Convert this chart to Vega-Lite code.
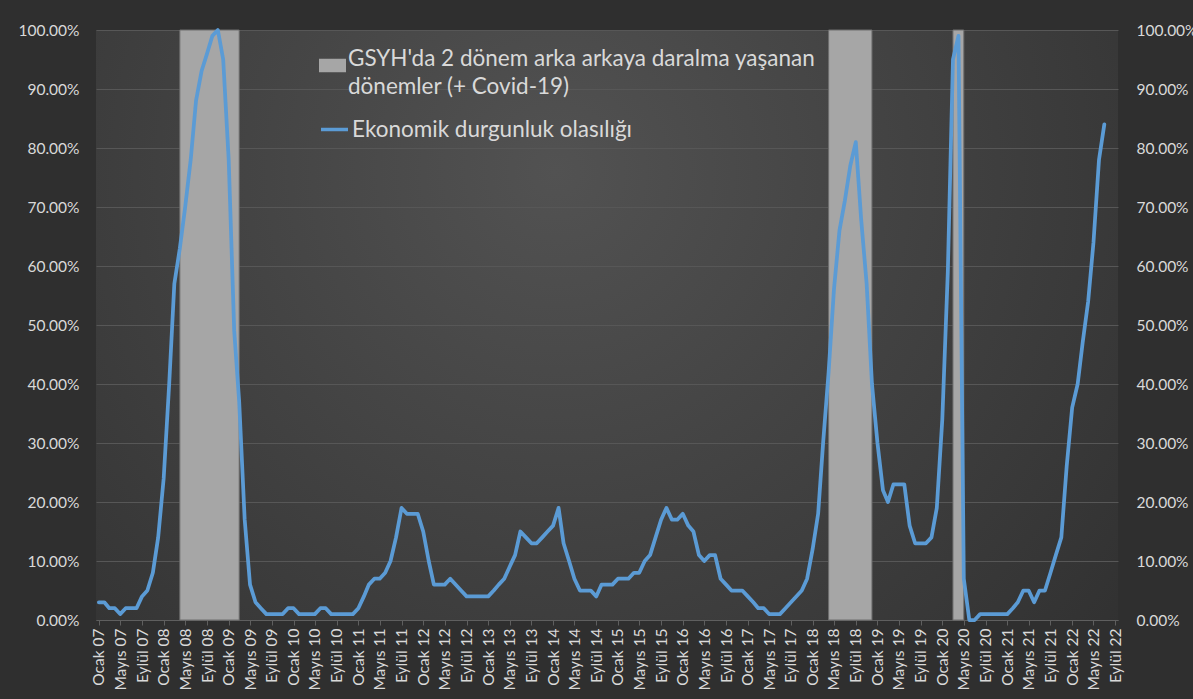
{
  "$schema": "https://vega.github.io/schema/vega-lite/v6.json",
  "width": 1022,
  "height": 590,
  "autosize": {"type": "none"},
  "padding": {"left": 96, "top": 30, "right": 75, "bottom": 79},
  "background": "#2f2f2f",
  "config": {
    "font": "Lato",
    "view": {
      "stroke": null,
      "fill": {"gradient": "radial", "x1": 0.45, "y1": 0.35, "r1": 0, "x2": 0.45, "y2": 0.35, "r2": 0.8,
        "stops": [{"offset": 0, "color": "#525252"}, {"offset": 1, "color": "#2d2d2d"}]}
    },
    "axis": {"labelColor": "#d9d9d9", "labelFont": "Lato", "labelFontSize": 15.5, "title": null, "gridColor": "#575757", "gridWidth": 1},
    "style": {"guide-label": {"lineHeight": 28.5}}
  },
  "datasets": {
    "daralma": [
      {"baslangic": "2008-04-01", "bitis": "2009-03-01"},
      {"baslangic": "2018-04-01", "bitis": "2018-12-01"},
      {"baslangic": "2020-03-01", "bitis": "2020-05-01"}
    ],
    "olasilik": [
      {"ay": "2007-01-01", "deger": 0.03}, {"ay": "2007-02-01", "deger": 0.03}, {"ay": "2007-03-01", "deger": 0.02}, {"ay": "2007-04-01", "deger": 0.02},
      {"ay": "2007-05-01", "deger": 0.01}, {"ay": "2007-06-01", "deger": 0.02}, {"ay": "2007-07-01", "deger": 0.02}, {"ay": "2007-08-01", "deger": 0.02},
      {"ay": "2007-09-01", "deger": 0.04}, {"ay": "2007-10-01", "deger": 0.05}, {"ay": "2007-11-01", "deger": 0.08}, {"ay": "2007-12-01", "deger": 0.14},
      {"ay": "2008-01-01", "deger": 0.24}, {"ay": "2008-02-01", "deger": 0.40}, {"ay": "2008-03-01", "deger": 0.57}, {"ay": "2008-04-01", "deger": 0.63},
      {"ay": "2008-05-01", "deger": 0.70}, {"ay": "2008-06-01", "deger": 0.78}, {"ay": "2008-07-01", "deger": 0.88}, {"ay": "2008-08-01", "deger": 0.93},
      {"ay": "2008-09-01", "deger": 0.96}, {"ay": "2008-10-01", "deger": 0.99}, {"ay": "2008-11-01", "deger": 1.00}, {"ay": "2008-12-01", "deger": 0.95},
      {"ay": "2009-01-01", "deger": 0.78}, {"ay": "2009-02-01", "deger": 0.49}, {"ay": "2009-03-01", "deger": 0.37}, {"ay": "2009-04-01", "deger": 0.17},
      {"ay": "2009-05-01", "deger": 0.06}, {"ay": "2009-06-01", "deger": 0.03}, {"ay": "2009-07-01", "deger": 0.02}, {"ay": "2009-08-01", "deger": 0.01},
      {"ay": "2009-09-01", "deger": 0.01}, {"ay": "2009-10-01", "deger": 0.01}, {"ay": "2009-11-01", "deger": 0.01}, {"ay": "2009-12-01", "deger": 0.02},
      {"ay": "2010-01-01", "deger": 0.02}, {"ay": "2010-02-01", "deger": 0.01}, {"ay": "2010-03-01", "deger": 0.01}, {"ay": "2010-04-01", "deger": 0.01},
      {"ay": "2010-05-01", "deger": 0.01}, {"ay": "2010-06-01", "deger": 0.02}, {"ay": "2010-07-01", "deger": 0.02}, {"ay": "2010-08-01", "deger": 0.01},
      {"ay": "2010-09-01", "deger": 0.01}, {"ay": "2010-10-01", "deger": 0.01}, {"ay": "2010-11-01", "deger": 0.01}, {"ay": "2010-12-01", "deger": 0.01},
      {"ay": "2011-01-01", "deger": 0.02}, {"ay": "2011-02-01", "deger": 0.04}, {"ay": "2011-03-01", "deger": 0.06}, {"ay": "2011-04-01", "deger": 0.07},
      {"ay": "2011-05-01", "deger": 0.07}, {"ay": "2011-06-01", "deger": 0.08}, {"ay": "2011-07-01", "deger": 0.10}, {"ay": "2011-08-01", "deger": 0.14},
      {"ay": "2011-09-01", "deger": 0.19}, {"ay": "2011-10-01", "deger": 0.18}, {"ay": "2011-11-01", "deger": 0.18}, {"ay": "2011-12-01", "deger": 0.18},
      {"ay": "2012-01-01", "deger": 0.15}, {"ay": "2012-02-01", "deger": 0.10}, {"ay": "2012-03-01", "deger": 0.06}, {"ay": "2012-04-01", "deger": 0.06},
      {"ay": "2012-05-01", "deger": 0.06}, {"ay": "2012-06-01", "deger": 0.07}, {"ay": "2012-07-01", "deger": 0.06}, {"ay": "2012-08-01", "deger": 0.05},
      {"ay": "2012-09-01", "deger": 0.04}, {"ay": "2012-10-01", "deger": 0.04}, {"ay": "2012-11-01", "deger": 0.04}, {"ay": "2012-12-01", "deger": 0.04},
      {"ay": "2013-01-01", "deger": 0.04}, {"ay": "2013-02-01", "deger": 0.05}, {"ay": "2013-03-01", "deger": 0.06}, {"ay": "2013-04-01", "deger": 0.07},
      {"ay": "2013-05-01", "deger": 0.09}, {"ay": "2013-06-01", "deger": 0.11}, {"ay": "2013-07-01", "deger": 0.15}, {"ay": "2013-08-01", "deger": 0.14},
      {"ay": "2013-09-01", "deger": 0.13}, {"ay": "2013-10-01", "deger": 0.13}, {"ay": "2013-11-01", "deger": 0.14}, {"ay": "2013-12-01", "deger": 0.15},
      {"ay": "2014-01-01", "deger": 0.16}, {"ay": "2014-02-01", "deger": 0.19}, {"ay": "2014-03-01", "deger": 0.13}, {"ay": "2014-04-01", "deger": 0.10},
      {"ay": "2014-05-01", "deger": 0.07}, {"ay": "2014-06-01", "deger": 0.05}, {"ay": "2014-07-01", "deger": 0.05}, {"ay": "2014-08-01", "deger": 0.05},
      {"ay": "2014-09-01", "deger": 0.04}, {"ay": "2014-10-01", "deger": 0.06}, {"ay": "2014-11-01", "deger": 0.06}, {"ay": "2014-12-01", "deger": 0.06},
      {"ay": "2015-01-01", "deger": 0.07}, {"ay": "2015-02-01", "deger": 0.07}, {"ay": "2015-03-01", "deger": 0.07}, {"ay": "2015-04-01", "deger": 0.08},
      {"ay": "2015-05-01", "deger": 0.08}, {"ay": "2015-06-01", "deger": 0.10}, {"ay": "2015-07-01", "deger": 0.11}, {"ay": "2015-08-01", "deger": 0.14},
      {"ay": "2015-09-01", "deger": 0.17}, {"ay": "2015-10-01", "deger": 0.19}, {"ay": "2015-11-01", "deger": 0.17}, {"ay": "2015-12-01", "deger": 0.17},
      {"ay": "2016-01-01", "deger": 0.18}, {"ay": "2016-02-01", "deger": 0.16}, {"ay": "2016-03-01", "deger": 0.15}, {"ay": "2016-04-01", "deger": 0.11},
      {"ay": "2016-05-01", "deger": 0.10}, {"ay": "2016-06-01", "deger": 0.11}, {"ay": "2016-07-01", "deger": 0.11}, {"ay": "2016-08-01", "deger": 0.07},
      {"ay": "2016-09-01", "deger": 0.06}, {"ay": "2016-10-01", "deger": 0.05}, {"ay": "2016-11-01", "deger": 0.05}, {"ay": "2016-12-01", "deger": 0.05},
      {"ay": "2017-01-01", "deger": 0.04}, {"ay": "2017-02-01", "deger": 0.03}, {"ay": "2017-03-01", "deger": 0.02}, {"ay": "2017-04-01", "deger": 0.02},
      {"ay": "2017-05-01", "deger": 0.01}, {"ay": "2017-06-01", "deger": 0.01}, {"ay": "2017-07-01", "deger": 0.01}, {"ay": "2017-08-01", "deger": 0.02},
      {"ay": "2017-09-01", "deger": 0.03}, {"ay": "2017-10-01", "deger": 0.04}, {"ay": "2017-11-01", "deger": 0.05}, {"ay": "2017-12-01", "deger": 0.07},
      {"ay": "2018-01-01", "deger": 0.12}, {"ay": "2018-02-01", "deger": 0.18}, {"ay": "2018-03-01", "deger": 0.30}, {"ay": "2018-04-01", "deger": 0.42},
      {"ay": "2018-05-01", "deger": 0.56}, {"ay": "2018-06-01", "deger": 0.66}, {"ay": "2018-07-01", "deger": 0.71}, {"ay": "2018-08-01", "deger": 0.77},
      {"ay": "2018-09-01", "deger": 0.81}, {"ay": "2018-10-01", "deger": 0.68}, {"ay": "2018-11-01", "deger": 0.57}, {"ay": "2018-12-01", "deger": 0.40},
      {"ay": "2019-01-01", "deger": 0.30}, {"ay": "2019-02-01", "deger": 0.22}, {"ay": "2019-03-01", "deger": 0.20}, {"ay": "2019-04-01", "deger": 0.23},
      {"ay": "2019-05-01", "deger": 0.23}, {"ay": "2019-06-01", "deger": 0.23}, {"ay": "2019-07-01", "deger": 0.16}, {"ay": "2019-08-01", "deger": 0.13},
      {"ay": "2019-09-01", "deger": 0.13}, {"ay": "2019-10-01", "deger": 0.13}, {"ay": "2019-11-01", "deger": 0.14}, {"ay": "2019-12-01", "deger": 0.19},
      {"ay": "2020-01-01", "deger": 0.34}, {"ay": "2020-02-01", "deger": 0.59}, {"ay": "2020-03-01", "deger": 0.95}, {"ay": "2020-04-01", "deger": 0.99},
      {"ay": "2020-05-01", "deger": 0.07}, {"ay": "2020-06-01", "deger": 0.00}, {"ay": "2020-07-01", "deger": 0.00}, {"ay": "2020-08-01", "deger": 0.01},
      {"ay": "2020-09-01", "deger": 0.01}, {"ay": "2020-10-01", "deger": 0.01}, {"ay": "2020-11-01", "deger": 0.01}, {"ay": "2020-12-01", "deger": 0.01},
      {"ay": "2021-01-01", "deger": 0.01}, {"ay": "2021-02-01", "deger": 0.02}, {"ay": "2021-03-01", "deger": 0.03}, {"ay": "2021-04-01", "deger": 0.05},
      {"ay": "2021-05-01", "deger": 0.05}, {"ay": "2021-06-01", "deger": 0.03}, {"ay": "2021-07-01", "deger": 0.05}, {"ay": "2021-08-01", "deger": 0.05},
      {"ay": "2021-09-01", "deger": 0.08}, {"ay": "2021-10-01", "deger": 0.11}, {"ay": "2021-11-01", "deger": 0.14}, {"ay": "2021-12-01", "deger": 0.26},
      {"ay": "2022-01-01", "deger": 0.36}, {"ay": "2022-02-01", "deger": 0.40}, {"ay": "2022-03-01", "deger": 0.47}, {"ay": "2022-04-01", "deger": 0.54},
      {"ay": "2022-05-01", "deger": 0.64}, {"ay": "2022-06-01", "deger": 0.78}, {"ay": "2022-07-01", "deger": 0.84}
    ]
  },
  "layer": [
    {
      "data": {"name": "daralma"},
      "mark": {"type": "rect", "stroke": "#6e6e6e", "strokeWidth": 1},
      "encoding": {
        "x": {
          "field": "baslangic", "type": "temporal",
          "scale": {"type": "utc", "domain": [{"year": 2006, "month": 12, "date": 16, "utc": true}, {"year": 2022, "month": 9, "date": 16, "utc": true}]},
          "axis": {
            "tickCount": {"interval": "month", "step": 4},
            "labelExpr": "['Ocak','Şubat','Mart','Nisan','Mayıs','Haziran','Temmuz','Ağustos','Eylül','Ekim','Kasım','Aralık'][utcmonth(datum.value)] + ' ' + utcFormat(datum.value, '%y')",
            "labelAngle": -90, "labelOverlap": false, "labelFlush": false, "labelBound": false,
            "grid": false, "domain": true, "domainColor": "#5f5f5f", "ticks": true, "tickSize": 5, "tickColor": "#5f5f5f", "labelPadding": 3
          }
        },
        "x2": {"field": "bitis"},
        "y": {
          "datum": 0, "type": "quantitative",
          "scale": {"domain": [0, 1]},
          "axis": {"orient": "left", "format": ".2%", "values": [0, 0.1, 0.2, 0.3, 0.4, 0.5, 0.6, 0.7, 0.8, 0.9, 1],
            "grid": true, "domain": false, "ticks": false, "labelPadding": 17}
        },
        "y2": {"datum": 1},
        "fill": {
          "datum": "GSYH'da 2 dönem arka arkaya daralma yaşanan\ndönemler (+ Covid-19)", "type": "nominal",
          "scale": {"range": ["#a6a6a6"]},
          "legend": {
            "orient": "none", "legendX": 223, "legendY": 22, "title": null, "padding": 0,
            "symbolType": "M-1,-0.5H1V0.5H-1Z", "symbolSize": 729, "symbolStrokeWidth": 0,
            "labelFontSize": 22.5, "labelColor": "#d9d9d9", "labelOffset": 2, "labelLimit": 700,
            "labelBaseline": "alphabetic",
            "labelExpr": "split(datum.label, '\\n')"
          }
        }
      }
    },
    {
      "data": {"name": "olasilik"},
      "mark": {"type": "line", "strokeWidth": 3.75, "strokeJoin": "round", "strokeCap": "round"},
      "encoding": {
        "x": {
          "field": "ay", "type": "temporal",
          "scale": {"type": "utc", "domain": [{"year": 2006, "month": 12, "date": 16, "utc": true}, {"year": 2022, "month": 9, "date": 16, "utc": true}]},
          "axis": {
            "tickCount": {"interval": "month", "step": 4},
            "labelExpr": "['Ocak','Şubat','Mart','Nisan','Mayıs','Haziran','Temmuz','Ağustos','Eylül','Ekim','Kasım','Aralık'][utcmonth(datum.value)] + ' ' + utcFormat(datum.value, '%y')",
            "labelAngle": -90, "labelOverlap": false, "labelFlush": false, "labelBound": false,
            "grid": false, "domain": true, "domainColor": "#5f5f5f", "ticks": true, "tickSize": 5, "tickColor": "#5f5f5f", "labelPadding": 3
          }
        },
        "y": {
          "field": "deger", "type": "quantitative",
          "scale": {"domain": [0, 1]},
          "axis": {"orient": "right", "format": ".2%", "values": [0, 0.1, 0.2, 0.3, 0.4, 0.5, 0.6, 0.7, 0.8, 0.9, 1],
            "grid": false, "domain": false, "ticks": false, "labelPadding": 18}
        },
        "stroke": {
          "datum": "Ekonomik durgunluk olasılığı", "type": "nominal",
          "scale": {"range": ["#5b9bd5"]},
          "legend": {
            "orient": "none", "legendX": 223, "legendY": 84, "title": null, "padding": 0,
            "symbolType": "stroke", "symbolSize": 729, "symbolStrokeWidth": 3.5,
            "labelFontSize": 22.5, "labelColor": "#d9d9d9", "labelOffset": 2, "labelLimit": 700
          }
        }
      }
    }
  ],
  "resolve": {"scale": {"y": "independent"}}
}
